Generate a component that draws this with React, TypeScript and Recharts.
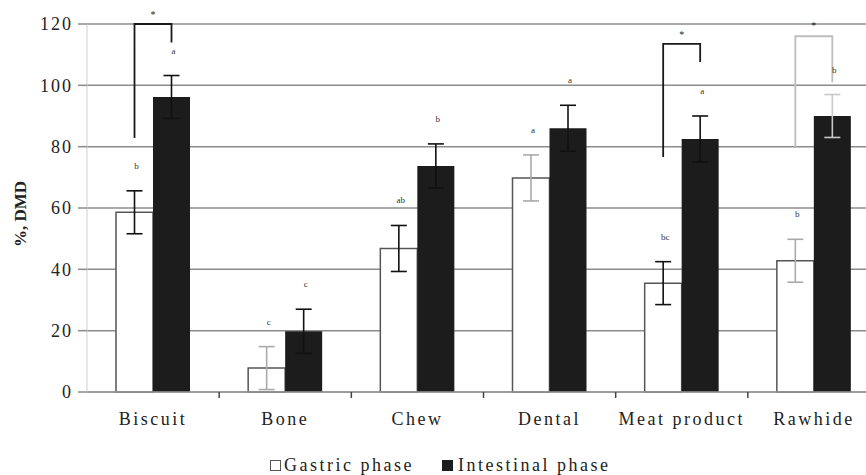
import { BarChart, Bar, XAxis, YAxis, CartesianGrid, ErrorBar, LabelList } from 'recharts';

const categories = ['Biscuit', 'Bone', 'Chew', 'Dental', 'Meat product', 'Rawhide'];
const gastric = [58.6, 7.8, 46.8, 69.8, 35.5, 42.8];
const gastricErr = [7, 7, 7.5, 7.5, 7, 7];
const gastricErrTone = ['dark', 'light', 'dark', 'light', 'dark', 'light'];
const intestinal = [96.2, 19.8, 73.7, 86, 82.5, 90];
const intestinalErr = [7, 7.2, 7.2, 7.5, 7.5, 7];
const intestinalErrTone = ['dark', 'dark', 'dark', 'dark', 'dark', 'light'];
const gastricLetters = ['b', 'c', 'ab', 'a', 'bc', 'b'];
const intestinalLetters = ['a', 'c', 'b', 'a', 'a', 'b'];
// significance brackets (gastric vs intestinal), values in %DMD
const bracketTop = [120, null, null, null, 113.5, 116];
const bracketLeftEnd = [82.8, null, null, null, 76.6, 79.6];
const bracketRightEnd = [114, null, null, null, 107.6, 101];
const bracketStar = [123.2, null, null, null, 116.8, 119.6];
const bracketTone = ['dark', null, null, null, 'dark', 'light'];
const yTicks = [0, 20, 40, 60, 80, 100, 120];

const data = categories.map((name, i) => ({
  name,
  gastric: gastric[i],
  gErrDark: gastricErrTone[i] === 'dark' ? gastricErr[i] : undefined,
  gErrLight: gastricErrTone[i] === 'light' ? gastricErr[i] : undefined,
  intestinal: intestinal[i],
  iErrDark: intestinalErrTone[i] === 'dark' ? intestinalErr[i] : undefined,
  iErrLight: intestinalErrTone[i] === 'light' ? intestinalErr[i] : undefined,
}));

const serif = '"Liberation Serif", "Times New Roman", serif';

const makeLabel = (series: 'g' | 'i') => (props: any) => {
  const { index, value } = props;
  const vb = props.viewBox && props.viewBox.width != null ? props.viewBox : props;
  const x = Number(vb.x);
  const y = Number(vb.y);
  const w = Number(vb.width);
  const h = Number(vb.height);
  const v = Number(value);
  if (!isFinite(x) || !isFinite(h) || !v) return null;
  const base = y + h;
  const ppu = h / v;
  const toY = (val: number) => base - val * ppu;
  const cx = x + w / 2;
  const err = series === 'g' ? gastricErr[index] : intestinalErr[index];
  const letter = series === 'g' ? gastricLetters[index] : intestinalLetters[index];
  const letterY = toY(v + err) - 25;
  const parts: any[] = [
    <text key="l" x={cx + 2} y={letterY + 3} textAnchor="middle" fontSize={9} fontFamily={serif} fill="#333">
      {letter}
    </text>,
  ];
  if (series === 'g' && bracketTop[index] != null) {
    const col = bracketTone[index] === 'dark' ? '#1a1a1a' : '#bdbdbd';
    const rx = cx + w;
    const ty = toY(bracketTop[index] as number);
    parts.push(
      <path
        key="b"
        d={`M${cx},${toY(bracketLeftEnd[index] as number)} L${cx},${ty} L${rx},${ty} L${rx},${toY(bracketRightEnd[index] as number)}`}
        fill="none"
        stroke={col}
        strokeWidth={1.8}
      />,
      <text key="s" x={(cx + rx) / 2} y={toY(bracketStar[index] as number) + 4} textAnchor="middle" fontSize={10} fontFamily={serif} fill="#222">
        *
      </text>
    );
  }
  return <g>{parts}</g>;
};

const XTick = (props: any) => {
  const { x, y, payload, index } = props;
  const half = payload && payload.offset ? payload.offset : 66;
  return (
    <g>
      {index > 0 && <line x1={x - half} x2={x - half} y1={y - 20} y2={y - 14} stroke="#444" strokeWidth={1.5} />}
      <text x={x} y={y} dy={13} textAnchor="middle" fontSize={18} fontFamily={serif} fill="#222" letterSpacing={2.5}>
        {payload.value}
      </text>
    </g>
  );
};

export default function App() {
  return (
    <div style={{ position: 'fixed', left: 0, top: 0, width: 866, height: 475, overflow: 'hidden', background: '#fff' }}>
      <BarChart
        width={880}
        height={475}
        data={data}
        margin={{ top: 24, right: 0, left: 0, bottom: 43 }}
        barGap={0}
        barSize={37}
      >
        <CartesianGrid vertical={false} stroke="#8c8c8c" strokeWidth={1.5} />
        <XAxis
          dataKey="name"
          height={40}
          axisLine={{ stroke: '#999', strokeWidth: 1.5 }}
          tickLine={false}
          tickSize={6}
          tickMargin={14}
          tick={<XTick />}
          interval={0}
        />
        <YAxis
          width={87}
          domain={[0, 120]}
          ticks={yTicks}
          interval={0}
          axisLine={{ stroke: '#d0d0d0', strokeWidth: 1 }}
          tickLine={{ stroke: '#8c8c8c', strokeWidth: 1.5 }}
          tickSize={9}
          tickMargin={5}
          tick={{ fontSize: 18, fontFamily: serif, fill: '#222', letterSpacing: 2 }}
          label={{
            content: (p: any) => {
              const vb = p.viewBox || { y: 24, height: 368 };
              const cy = vb.y + vb.height / 2 + 6;
              return (
                <text x={22} y={cy} transform={`rotate(-90, 22, ${cy})`} textAnchor="middle" dominantBaseline="middle" fontSize={17} fontWeight="bold" fontFamily={serif} fill="#222">
                  %, DMD
                </text>
              );
            },
          }}
        />
        <Bar dataKey="gastric" fill="#ffffff" stroke="#555" strokeWidth={1.5} isAnimationActive={false}>
          <ErrorBar dataKey="gErrDark" width={8} stroke="#111" strokeWidth={1.6} direction="y" />
          <ErrorBar dataKey="gErrLight" width={8} stroke="#aaa" strokeWidth={1.6} direction="y" />
          <LabelList dataKey="gastric" content={makeLabel('g')} />
        </Bar>
        <Bar dataKey="intestinal" fill="#1c1c1c" isAnimationActive={false}>
          <ErrorBar dataKey="iErrDark" width={8} stroke="#111" strokeWidth={1.6} direction="y" />
          <ErrorBar dataKey="iErrLight" width={8} stroke="#c8c8c8" strokeWidth={1.6} direction="y" />
          <LabelList dataKey="intestinal" content={makeLabel('i')} />
        </Bar>
      </BarChart>
      <div
        style={{
          position: 'absolute',
          left: 270,
          top: 455,
          fontFamily: serif,
          fontSize: 18,
          letterSpacing: 2.5,
          color: '#222',
          display: 'flex',
          alignItems: 'center',
          whiteSpace: 'nowrap',
        }}
      >
        <span style={{ display: 'inline-block', width: 9, height: 9, border: '1px solid #555', background: '#fff', marginRight: 3 }} />
        <span>Gastric phase</span>
        <span style={{ display: 'inline-block', width: 11, height: 11, background: '#1c1c1c', marginLeft: 28, marginRight: 5 }} />
        <span>Intestinal phase</span>
      </div>
    </div>
  );
}
